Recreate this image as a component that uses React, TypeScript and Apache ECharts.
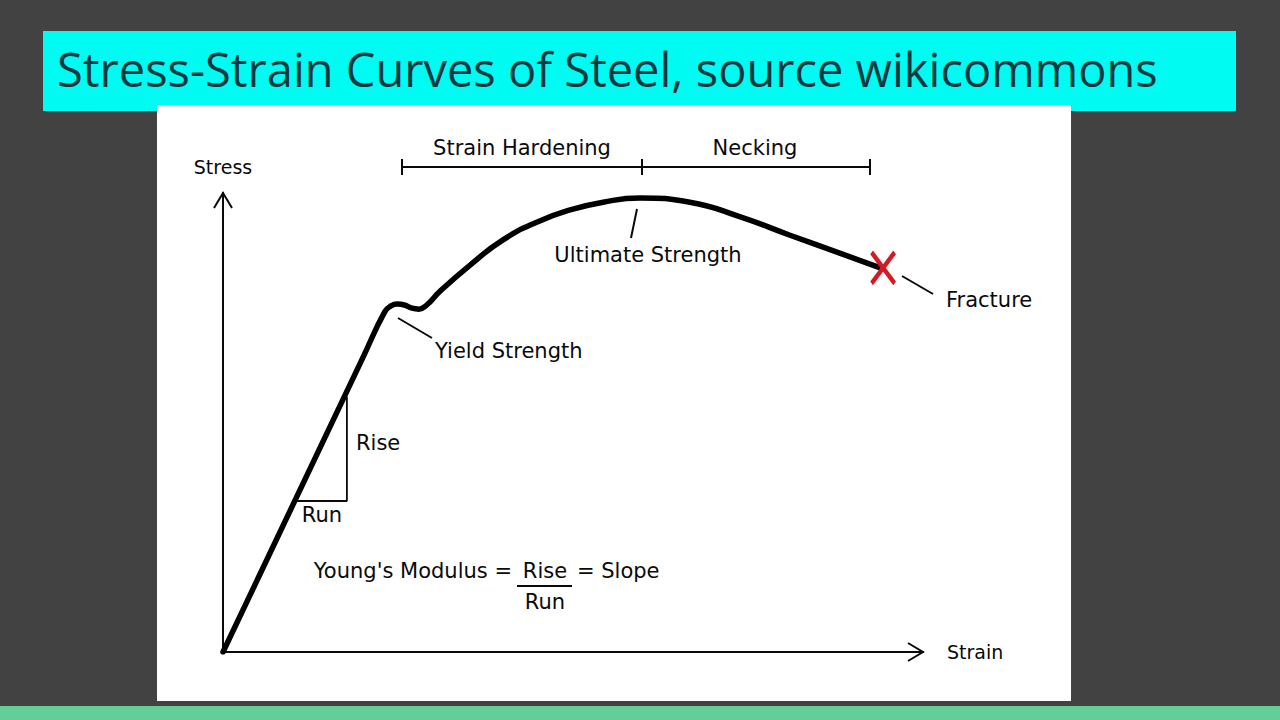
import React, { useEffect, useRef } from "react";
import * as echarts from "echarts";

// Stress-strain curve (arbitrary units, 0..100)
const strainValues = [0, 20.0, 23.1, 24.0, 24.9, 25.9, 27.0, 28.0, 29.1, 31.0, 35.3, 40.0, 44.9, 49.6, 54.3, 59.6, 66.7, 73.9, 81.0, 88.1, 93.9];
const stressValues = [0, 64.2, 74.1, 75.4, 75.8, 75.6, 74.9, 74.7, 75.6, 78.6, 84.3, 89.8, 93.7, 96.3, 98.0, 98.9, 98.0, 94.8, 90.8, 86.9, 83.7];

// Rise / Run triangle on the elastic part
const triangleStrain = [10.3, 17.7, 17.7];
const triangleStress = [32.9, 32.9, 55.6];

// Fracture point
const fracturePoint = [94.3, 83.7];

const titleText = "Stress-Strain Curves of Steel, source wikicommons";
const xAxisName = "Strain";
const yAxisName = "Stress";
const regionLabels = ["Strain Hardening", "Necking"];
const pointLabels = ["Ultimate Strength", "Yield Strength", "Fracture"];

const FONT = "DejaVu Sans";
const INK = "#0a0a0a";

export default function App() {
  const ref = useRef<HTMLDivElement>(null);
  useEffect(() => {
    if (!ref.current) return;
    const chart = echarts.init(ref.current, null, { renderer: "svg" });
    const curve = strainValues.map((x, i) => [x, stressValues[i]]);
    const tri = triangleStrain.map((x, i) => [x, triangleStress[i]]);
    const txt = (x: number, y: number, text: string, size = 21, align = "left", extra: any = {}) => ({
      type: "text",
      x,
      y,
      z: 50,
      style: {
        text,
        fill: INK,
        font: `${size}px "${FONT}"`,
        textAlign: align,
        textVerticalAlign: "middle",
        ...extra,
      },
    });
    const ln = (x1: number, y1: number, x2: number, y2: number, w = 2, color = INK) => ({
      type: "line",
      z: 50,
      shape: { x1, y1, x2, y2 },
      style: { stroke: color, lineWidth: w },
    });
    chart.setOption({
      animation: false,
      backgroundColor: "#424242",
      grid: { left: 223, right: 357, top: 193, bottom: 68 },
      xAxis: {
        type: "value",
        min: 0,
        max: 100,
        name: xAxisName,
        nameLocation: "end",
        nameGap: 24,
        nameTextStyle: { fontFamily: FONT, fontSize: 19, color: INK, verticalAlign: "middle" },
        axisLine: { show: true, lineStyle: { color: INK, width: 2 } },
        axisTick: { show: false },
        axisLabel: { show: false },
        splitLine: { show: false },
      },
      yAxis: {
        type: "value",
        min: 0,
        max: 100,
        name: yAxisName,
        nameLocation: "end",
        nameGap: 26,
        nameTextStyle: { fontFamily: FONT, fontSize: 19, color: INK, align: "center", verticalAlign: "middle" },
        axisLine: { show: true, lineStyle: { color: INK, width: 2 } },
        axisTick: { show: false },
        axisLabel: { show: false },
        splitLine: { show: false },
      },
      series: [
        {
          type: "line",
          data: curve,
          smooth: 0.5,
          symbol: "none",
          lineStyle: { color: "#000000", width: 5.5, cap: "round", join: "round" },
          z: 5,
        },
        {
          type: "line",
          data: tri,
          symbol: "none",
          lineStyle: { color: INK, width: 1.8 },
          z: 4,
        },
        {
          type: "scatter",
          data: [fracturePoint],
          symbol: "path://M0 0L23 31M23 0L0 31",
          symbolSize: [23, 31],
          itemStyle: { color: "transparent", borderColor: "#d61a22", borderWidth: 4.5, opacity: 1 },
          z: 6,
        },
      ],
      graphic: [
        { type: "rect", z: -10, shape: { x: 43, y: 31, width: 1193, height: 80 }, style: { fill: "#00fbf2" } },
        { type: "rect", z: -9, shape: { x: 157, y: 105, width: 914, height: 596 }, style: { fill: "#ffffff" } },
        { type: "rect", z: -10, shape: { x: 0, y: 706, width: 1280, height: 14 }, style: { fill: "#63cf97" } },
        {
          type: "text",
          z: 50,
          x: 57,
          y: 92,
          style: { text: titleText, fill: "#0b3b40", font: `47px "Open Sans"`, textAlign: "left", textVerticalAlign: "bottom" },
        },
        // axis arrow heads
        { type: "polyline", z: 50, shape: { points: [[214, 208], [223, 193], [232, 208]] }, style: { stroke: INK, lineWidth: 2, fill: "none" } },
        { type: "polyline", z: 50, shape: { points: [[908, 643], [923, 652], [908, 661]] }, style: { stroke: INK, lineWidth: 2, fill: "none" } },
        // region bracket
        ln(402, 167, 870, 167),
        ln(402, 159, 402, 175),
        ln(642, 159, 642, 175),
        ln(870, 159, 870, 175),
        txt(522, 148, regionLabels[0], 21, "center"),
        txt(755, 148, regionLabels[1], 21, "center"),
        // leaders
        ln(637, 209, 631, 238),
        txt(648, 255, pointLabels[0], 21, "center"),
        ln(398, 318, 432, 338),
        txt(435, 351, pointLabels[1], 21, "left"),
        ln(902, 276, 933, 294),
        txt(946, 300, pointLabels[2], 21, "left"),
        // rise / run
        txt(356, 443, "Rise", 21, "left"),
        txt(322, 515, "Run", 21, "center"),
        // Young's modulus
        txt(512, 571, "Young's Modulus =", 21, "right"),
        txt(545, 571, "Rise", 21, "center"),
        txt(577, 571, "= Slope", 21, "left"),
        ln(517, 586, 572, 586, 1.8),
        txt(545, 602, "Run", 21, "center"),
      ],
    });
    return () => chart.dispose();
  }, []);
  return <div ref={ref} style={{ position: "fixed", left: 0, top: 0, width: 1280, height: 720 }} />;
}
